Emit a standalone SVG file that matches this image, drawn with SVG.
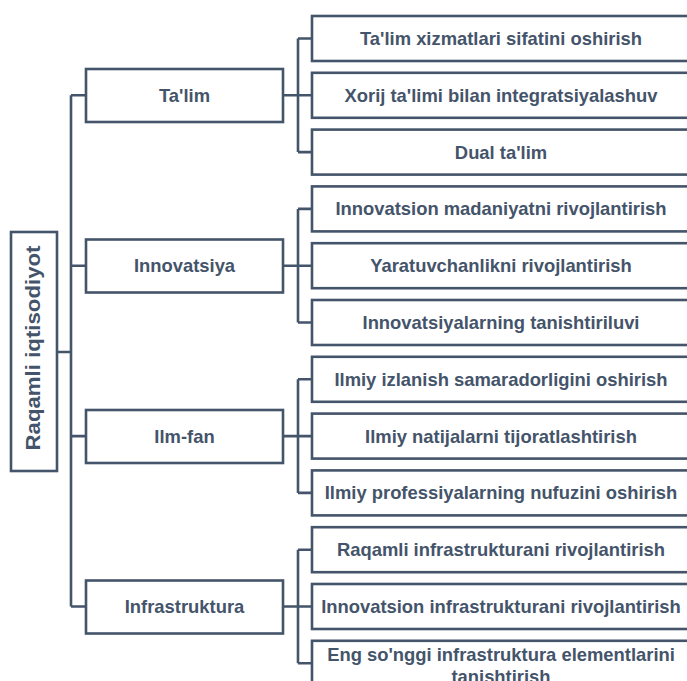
<svg xmlns="http://www.w3.org/2000/svg" width="687" height="681" viewBox="0 0 687 681">
<style>
.box{fill:#ffffff;stroke:#44546A;stroke-width:2.6}
.ln{fill:none;stroke:#44546A;stroke-width:2.6}
.t{font-family:"Liberation Sans",Arial,sans-serif;font-weight:bold;font-size:18.4px;fill:#44546A;text-anchor:middle}
.root{font-size:21px}
</style>
<rect width="687" height="681" fill="#ffffff"/>
<g id="connectors">
<path class="ln" d="M57 352H71M71 95.3V606.5"/>
<path class="ln" d="M71 95.3H86M71 265.7H86M71 436.1H86M71 606.5H86"/>
<path class="ln" d="M283 95.3H312M298 38.5V152.1M298 38.5H312M298 152.1H312"/>
<path class="ln" d="M283 265.7H312M298 208.9V322.5M298 208.9H312M298 322.5H312"/>
<path class="ln" d="M283 436.1H312M298 379.3V492.9M298 379.3H312M298 492.9H312"/>
<path class="ln" d="M283 606.5H312M298 549.7V663.3M298 549.7H312M298 663.3H312"/>
</g>
<g id="root">
<rect class="box" x="11" y="232" width="46" height="239"/>
<text class="t root" transform="translate(39.5 348) rotate(-90)" x="0" y="0" textLength="205" lengthAdjust="spacingAndGlyphs">Raqamli iqtisodiyot</text>
</g>
<g id="talim"><rect class="box" x="86" y="69" width="197" height="53"/><text class="t" x="184.5" y="101.8">Ta'lim</text></g>
<g id="innovatsiya"><rect class="box" x="86" y="239.5" width="197" height="53"/><text class="t" x="184.5" y="272.2">Innovatsiya</text></g>
<g id="ilmfan"><rect class="box" x="86" y="410" width="197" height="53"/><text class="t" x="184.5" y="442.6">Ilm-fan</text></g>
<g id="infrastruktura"><rect class="box" x="86" y="580.5" width="197" height="53"/><text class="t" x="184.5" y="613">Infrastruktura</text></g>
<g id="c1"><rect class="box" x="312" y="16" width="378" height="45"/><text class="t" x="501" y="45">Ta'lim xizmatlari sifatini oshirish</text></g>
<g id="c2"><rect class="box" x="312" y="72.8" width="378" height="45"/><text class="t" x="501" y="101.8">Xorij ta'limi bilan integratsiyalashuv</text></g>
<g id="c3"><rect class="box" x="312" y="129.6" width="378" height="45"/><text class="t" x="501" y="158.6">Dual ta'lim</text></g>
<g id="c4"><rect class="box" x="312" y="186.4" width="378" height="45"/><text class="t" x="501" y="215.4">Innovatsion madaniyatni rivojlantirish</text></g>
<g id="c5"><rect class="box" x="312" y="243.2" width="378" height="45"/><text class="t" x="501" y="272.2">Yaratuvchanlikni rivojlantirish</text></g>
<g id="c6"><rect class="box" x="312" y="300" width="378" height="45"/><text class="t" x="501" y="329">Innovatsiyalarning tanishtiriluvi</text></g>
<g id="c7"><rect class="box" x="312" y="356.8" width="378" height="45"/><text class="t" x="501" y="385.8">Ilmiy izlanish samaradorligini oshirish</text></g>
<g id="c8"><rect class="box" x="312" y="413.6" width="378" height="45"/><text class="t" x="501" y="442.6">Ilmiy natijalarni tijoratlashtirish</text></g>
<g id="c9"><rect class="box" x="312" y="470.4" width="378" height="45"/><text class="t" x="501" y="499.4">Ilmiy professiyalarning nufuzini oshirish</text></g>
<g id="c10"><rect class="box" x="312" y="527.2" width="378" height="45"/><text class="t" x="501" y="556.2">Raqamli infrastrukturani rivojlantirish</text></g>
<g id="c11"><rect class="box" x="312" y="584" width="378" height="45"/><text class="t" x="501" y="613">Innovatsion infrastrukturani rivojlantirish</text></g>
<g id="c12"><rect class="box" x="312" y="640.8" width="378" height="60"/><text class="t" x="501" y="661">Eng so'nggi infrastruktura elementlarini</text><text class="t" x="501" y="683">tanishtirish</text></g>
</svg>
